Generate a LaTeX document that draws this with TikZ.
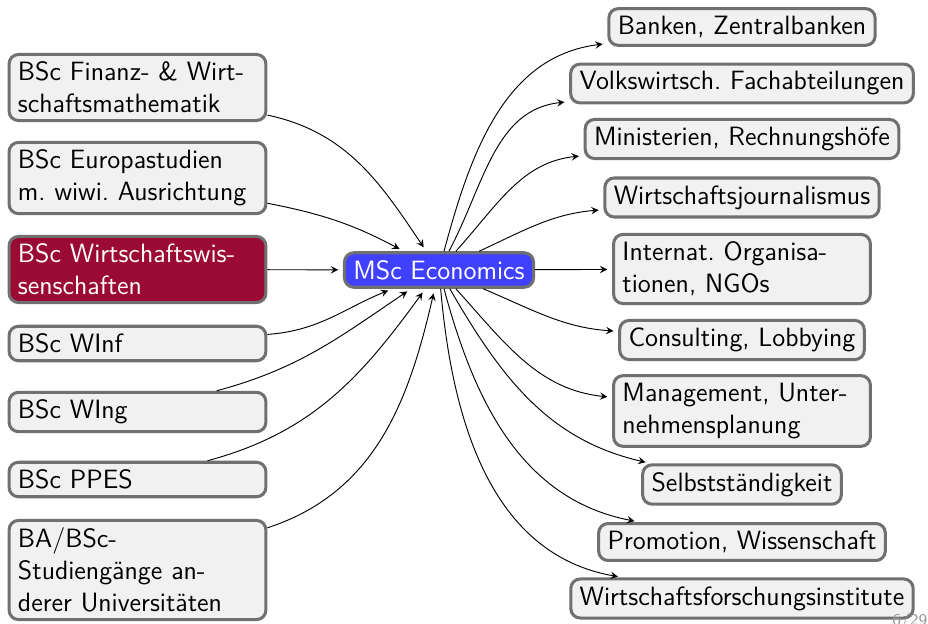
\documentclass[tikz,border=0pt]{standalone}
\usetikzlibrary{arrows}
\definecolor{boxgray}{RGB}{112,112,112}
\definecolor{boxfill}{RGB}{241,241,241}
\definecolor{unired}{RGB}{155,10,50}
\definecolor{mscblue}{RGB}{64,64,255}
\begin{document}
\begin{tikzpicture}[x=0.015cm,y=0.015cm,
  font=\sffamily\fontsize{11.3}{13.6}\selectfont\frenchspacing,
  box/.style={draw=boxgray,line width=1.3pt,fill=boxfill,rounded corners=4pt,inner xsep=3.8pt,inner ysep=3.2pt},
  wide/.style={box,text width=102pt,align=left},
  hilite/.style={fill=#1,text=white}]
  \useasboundingbox (0,0) rectangle (928,623);
  \node[wide] (fin)  at (137.5,535.5) {BSc Finanz- \& Wirt-\\schaftsmathematik};
  \node[wide] (euro) at (137.5,445) {BSc Europastudien\\m. wiwi. Ausrichtung};
  \node[wide,hilite=unired] (wiwi) at (137.5,353.5) {BSc Wirtschaftswis-\\senschaften};
  \node[wide] (winf) at (137.5,279.5) {BSc WInf};
  \node[wide] (wing) at (137.5,211) {BSc WIng};
  \node[wide] (ppes) at (137.5,143.5) {BSc PPES};
  \node[wide] (ba)   at (137.5,53) {BA/BSc-\\Studiengänge an-\\derer Universitäten};
  \node[box,hilite=mscblue] (msc) at (439,353) {MSc Economics};
  \node[box] (banken) at (742,596) {Banken, Zentralbanken};
  \node[box] (vwl)    at (742,539.5) {Volkswirtsch. Fachabteilungen};
  \node[box] (min)    at (742,484) {Ministerien, Rechnungshöfe};
  \node[box] (journ)  at (742,425.5) {Wirtschaftsjournalismus};
  \node[wide] (intl)  at (742,354) {Internat. Organisa-\\tionen, NGOs};
  \node[box] (cons)   at (742,283) {Consulting, Lobbying};
  \node[wide] (mgmt)  at (742,212) {Management, Unter-\\nehmensplanung};
  \node[box] (selbst) at (742,138.5) {Selbstständigkeit};
  \node[box] (prom)   at (742,81) {Promotion, Wissenschaft};
  \node[box] (wfi)    at (742,24.5) {Wirtschaftsforschungsinstitute};
  \node[anchor=base west,inner sep=0pt,text=black!40,font=\sffamily\fontsize{7}{8}\selectfont] (page) at (892,-2.7) {6/29};
  \path[-stealth,shorten >=2pt]
    (fin)  edge[out=-12,in=124] (msc)
    (euro) edge[out=-11,in=152] (msc)
    (wiwi) edge (msc)
    (winf) edge[out=4,in=202] (msc)
    (wing) edge[out=15,in=214] (msc)
    (ppes) edge[out=15,in=234] (msc)
    (ba)   edge[out=18,in=257] (msc)
    (msc)  edge[out=75,in=187] (banken)
           edge[out=62,in=186] (vwl)
           edge[out=48,in=186] (min)
           edge[out=25,in=185] (journ)
           edge (intl)
           edge[out=-23,in=176] (cons)
           edge[out=-48,in=174] (mgmt)
           edge[out=-60,in=167] (selbst)
           edge[out=-75,in=169] (prom)
           edge[out=-85,in=170] (wfi);
\end{tikzpicture}
\end{document}
